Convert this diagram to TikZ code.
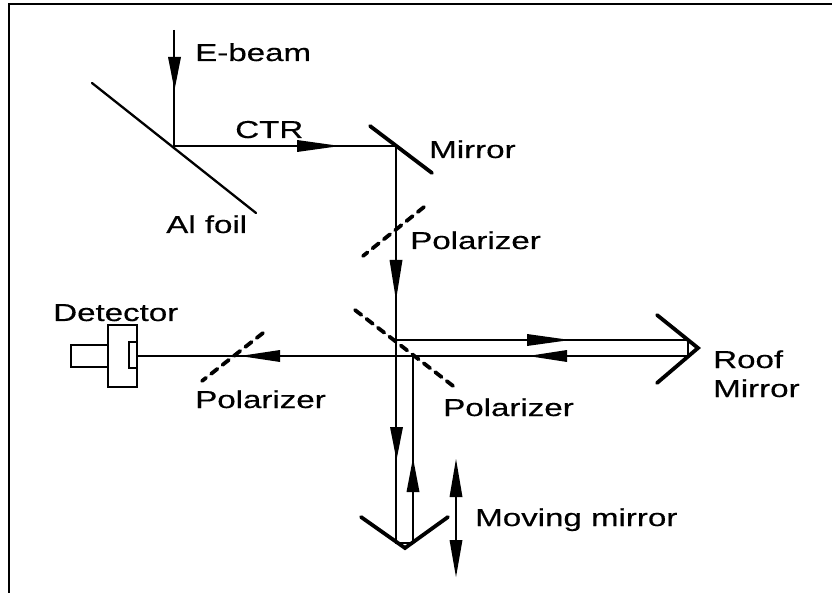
\documentclass[tikz,border=0pt]{standalone}
\usepackage{fontspec}
\newfontfamily\labfont[RawFeature={embolden=0.35}]{Liberation Sans}
\tikzset{
 x=1pt,y=-1pt,
 beam/.style={line width=2.3pt},
 frameline/.style={line width=2.4pt},
 foil/.style={line width=2.3pt,line cap=round},
 mirrorline/.style={line width=3.8pt,line cap=round},
 polar/.style={line width=3.8pt,line cap=round,dash pattern=on 8pt off 6.5pt},
 device/.style={line width=2.1pt},
 lab/.style={anchor=base west,inner sep=0pt,xscale=1.35,font=\labfont\fontsize{24.5}{28}\selectfont},
}
\begin{document}
\begin{tikzpicture}
\useasboundingbox (0,0) rectangle (832,593);
% frame
\coordinate (f1) at (9,593); \coordinate (f2) at (9,4); \coordinate (f3) at (832,4);
\draw[frameline] (f1) -- (f2) -- (f3);
% points
\coordinate (start) at (174,30);
\coordinate (foilhit) at (174,146);
\coordinate (mirhit) at (396,146);
\coordinate (bs1) at (396,340);
\coordinate (bsdown) at (396,543);
\coordinate (bsup) at (413,356);
\coordinate (mmr) at (413,543);
\coordinate (rr1) at (688,340);
\coordinate (rr2) at (688,356);
\coordinate (detin) at (137,356);
% optical elements
\draw[foil] (92,83) -- (256,213);
\draw[mirrorline] (370,126) -- (432,173);
\draw[polar] (424,207) -- (363,256);
\draw[polar] (355,310) -- (457,389);
\draw[polar] (263,333) -- (202,381);
\draw[mirrorline,line join=miter] (657,315) -- (698,348) -- (657,383);
\draw[mirrorline,line join=miter] (361,517) -- (405,548) -- (448,517);
% beams
\draw[beam] (start) -- (foilhit) -- (mirhit) -- (bsdown) -- (mmr) -- (bsup);
\draw[beam] (bs1) -- (rr1) -- (rr2) -- (detin);
\draw[beam] (456,480) -- (456,560);
% arrowheads
\fill (168,57) -- (181,57) -- (174.5,90) -- cycle;
\fill (297,140) -- (297,152) -- (340,146) -- cycle;
\fill (389.5,260) -- (402.5,260) -- (396,300) -- cycle;
\fill (527,334) -- (527,346) -- (570,340) -- cycle;
\fill (567,350) -- (567,362) -- (528,356) -- cycle;
\fill (280,350) -- (280,362) -- (240,356) -- cycle;
\fill (390,427) -- (403,427) -- (396.5,460) -- cycle;
\fill (406.5,492) -- (419.5,492) -- (413,458) -- cycle;
\fill (449.5,497) -- (462.5,497) -- (456,459) -- cycle;
\fill (449.5,540) -- (462.5,540) -- (456,577) -- cycle;
% detector
\draw[device] (108,325) rectangle (137,387);
\draw[device] (71,345) rectangle (108,367);
\draw[device] (129,342) rectangle (137,368);
% labels
\node[lab] (ebeam) at (195,61) {E-beam};
\node[lab] (ctr) at (235,138) {CTR};
\node[lab] (mirror) at (429,158) {Mirror};
\node[lab] (alfoil) at (166,233) {Al foil};
\node[lab] (pol1) at (410,249) {Polarizer};
\node[lab] (det) at (53,321) {Detector};
\node[lab] (pol2) at (195,408) {Polarizer};
\node[lab] (pol3) at (443,416) {Polarizer};
\node[lab] (roof) at (713,368) {Roof};
\node[lab] (roof2) at (713,397) {Mirror};
\node[lab] (moving) at (475,526) {Moving mirror};
\end{tikzpicture}
\end{document}
